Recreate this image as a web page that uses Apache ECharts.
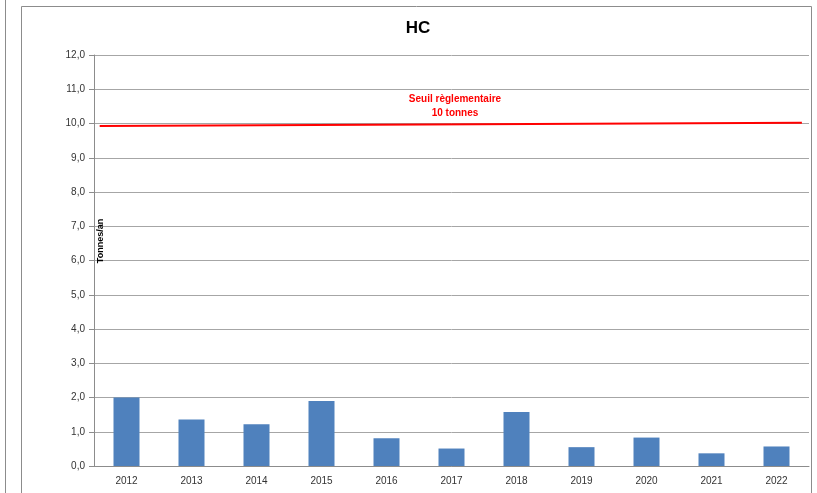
<!DOCTYPE html>
<html><head><meta charset="utf-8">
<script src="https://cdn.jsdelivr.net/npm/echarts@6/dist/echarts.min.js"></script>
<style>html,body{margin:0;padding:0;background:#fff}#c{width:817px;height:493px}</style>
</head><body><div id="c"></div>
<script>
const categories = ['2012','2013','2014','2015','2016','2017','2018','2019','2020','2021','2022'];
const emissions = [2.0, 1.36, 1.22, 1.90, 0.81, 0.51, 1.58, 0.55, 0.83, 0.37, 0.57];
const thresholdLine = [[0.008, 9.93], [0.99, 10.02]];
const yTicks = [0, 12, 1];
const chart = echarts.init(document.getElementById('c'));
const font = 'Liberation Sans, Arial, sans-serif';
chart.setOption({
  animation: false,
  grid: { left: 94, right: 8, top: 55, bottom: 27 },
  xAxis: [
    { type: 'category', data: categories,
      axisLine: { lineStyle: { color: '#8c8c8c' } },
      axisTick: { alignWithLabel: false, length: 4, lineStyle: { color: '#8c8c8c' } },
      axisLabel: { fontFamily: font, fontSize: 10, color: '#333', margin: 10 } },
    { type: 'value', min: 0, max: 1, show: false }
  ],
  yAxis: {
    type: 'value', min: yTicks[0], max: yTicks[1], interval: yTicks[2],
    axisLine: { show: true, lineStyle: { color: '#8c8c8c' } },
    axisTick: { show: true, length: 5, lineStyle: { color: '#8c8c8c' } },
    splitLine: { lineStyle: { color: '#a6a6a6', width: 1 } },
    axisLabel: { fontFamily: font, fontSize: 10, color: '#333', margin: 9,
      formatter: v => v.toFixed(1).replace('.', ',') }
  },
  series: [
    { type: 'bar', data: emissions, barWidth: 26, itemStyle: { color: '#4f81bd' } },
    { type: 'line', xAxisIndex: 1, data: thresholdLine, symbol: 'none',
      lineStyle: { color: '#ff0000', width: 2 }, z: 5 }
  ],
  graphic: [
    { type: 'rect', shape: { x: 21.5, y: 6.5, width: 790, height: 500 },
      style: { fill: 'none', stroke: '#8c8c8c', lineWidth: 1 }, z: -1 },
    { type: 'line', shape: { x1: 5.5, y1: 0, x2: 5.5, y2: 493 },
      style: { stroke: '#8c8c8c', lineWidth: 1 }, z: -1 },
    { type: 'text', x: 418, y: 28, style: { text: 'HC', align: 'center', verticalAlign: 'middle',
      fill: '#000', font: 'bold 17px ' + font } },
    { type: 'text', x: 101, y: 241, rotation: Math.PI / 2,
      style: { text: 'Tonnes/an', align: 'center', verticalAlign: 'middle',
        fill: '#000', font: 'bold 9px ' + font }, z: 10 },
    { type: 'text', x: 455, y: 92, style: { text: 'Seuil règlementaire\n10 tonnes', align: 'center',
      fill: '#ff0000', font: 'bold 10px ' + font, lineHeight: 14 } }
  ]
});
</script></body></html>
